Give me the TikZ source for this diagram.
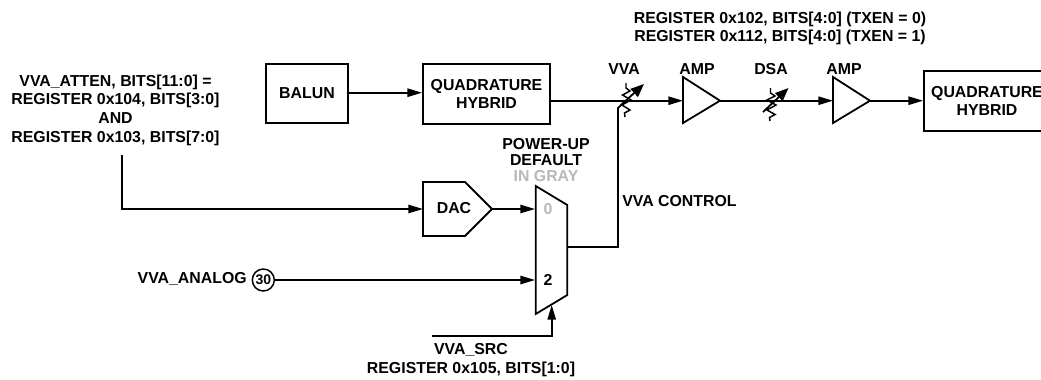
\documentclass[tikz,border=0pt]{standalone}
\usepackage{fontspec}
\setmainfont{Liberation Sans}
\usetikzlibrary{arrows.meta}
\tikzset{
  wire/.style={line width=1.35pt},
  flow/.style={wire,-{Triangle[length=11pt,width=6.2pt]}},
  blk/.style={draw,line width=1.35pt,inner sep=0pt,align=center},
  lab/.style={inner sep=0pt,align=center,font=\bfseries\fontsize{11.9}{14}\selectfont},
  tight/.style={font=\bfseries\fontsize{11.9}{12}\selectfont},
  zig/.style={line width=1.1pt,line join=miter},
}
\begin{document}
\begin{tikzpicture}[x=0.75pt,y=-0.75pt]
\useasboundingbox (0,0) rectangle (1041,379);
\node[blk,lab,minimum width=61.5pt,minimum height=44.25pt] (balun) at (307,93.5) {BALUN};
\node[blk,lab,minimum width=95.25pt,minimum height=45pt] (qh1) at (486.5,94) {QUADRATURE\\HYBRID};
\node[blk,lab,minimum width=94.5pt,minimum height=45pt] (qh2) at (987,101) {QUADRATURE\\HYBRID};
\draw[flow] (balun.east |- 0,92.7) -- (qh1.west |- 0,92.7);
% amps
\draw[wire,line join=miter] (683,77) -- (720,100.7) -- (683,123) -- cycle;
\draw[wire,line join=miter] (833,77) -- (870,100.7) -- (833,123) -- cycle;
\coordinate (a1) at (683,100.7); \coordinate (a1o) at (720,100.7);
\coordinate (a2) at (833,100.7); \coordinate (a2o) at (870,100.7);
\draw[flow] (qh1.east |- a1) -- (a1);
\draw[flow] (a1o) -- (a2);
\draw[flow] (a2o) -- (qh2.west |- a2);
% variable-element symbols
\draw[zig] (626,83) -- (626,88) -- (630,91) -- (622.5,95) -- (631,100) -- (622,105) -- (630,110) -- (624.5,113) -- (625,117);
\draw[line width=1.35pt,-{Triangle[length=10pt,width=8pt]}] (621,105) -- (644,84);
\draw[zig] (770.5,88) -- (770.5,93) -- (775,96) -- (767,100) -- (776,105) -- (767,110) -- (775,114.5) -- (769.5,117.5) -- (770,121);
\draw[line width=1.35pt,-{Triangle[length=10pt,width=8pt]}] (763,112) -- (788.5,88);
% DAC
\draw[wire,line join=miter] (423,182) -- (465,182) -- (492,209) -- (465,236) -- (423,236) -- cycle;
\node[lab] (dac) at (454,208) {DAC};
\coordinate (dacw) at (423,209); \coordinate (dace) at (492,209);
% mux
\draw[wire,line join=miter] (535.7,186) -- (567.3,205) -- (567.3,295) -- (535.7,314) -- cycle;
\node[lab,text=black!28] (m0) at (548,209) {0};
\node[lab] (m2) at (548,280) {2};
\coordinate (muxa) at (535,209); \coordinate (muxb) at (535,280);
\coordinate (muxs) at (551.7,305); \coordinate (muxo) at (567.3,247);
\draw[flow] (dace) -- (muxa);
\coordinate (attn) at (122,155);
\draw[flow] (attn) |- (dacw);
% analog
\node[draw,circle,line width=1.1pt,minimum size=16.5pt,inner sep=0pt,font=\bfseries\fontsize{10.5}{11}\selectfont] (p30) at (263.3,280) {30};
\draw[flow] (p30) -- (muxb);
\coordinate (srcs) at (432,336);
\draw[flow] (srcs) -| (muxs);
\coordinate (vvac) at (618,108); \coordinate (vvat) at (625,101.5);
\draw[wire,line join=miter] (muxo) -| (vvac) -- (vvat);
% labels
\node[lab] (t1) at (115.5,110) {VVA\_ATTEN, BITS[11:0] =\\REGISTER 0x104, BITS[3:0]\\AND\\REGISTER 0x103, BITS[7:0]};
\node[lab] (t2) at (780,28.5) {REGISTER 0x102, BITS[4:0] (TXEN = 0)\\REGISTER 0x112, BITS[4:0] (TXEN = 1)};
\node[lab] (t3) at (624,69) {VVA};
\node[lab] (t4) at (697,69) {AMP};
\node[lab] (t5) at (771,69) {DSA};
\node[lab] (t6) at (844,69) {AMP};
\node[lab,tight] (t7) at (546,160) {POWER-UP\\DEFAULT\\\textcolor{black!28}{IN GRAY}};
\node[lab,anchor=west] (t8) at (622,201) {VVA CONTROL};
\node[lab,anchor=east] (t9) at (247,279) {VVA\_ANALOG};
\node[lab] (t10) at (471,360.3) {VVA\_SRC\\REGISTER 0x105, BITS[1:0]};
\end{tikzpicture}
\end{document}
